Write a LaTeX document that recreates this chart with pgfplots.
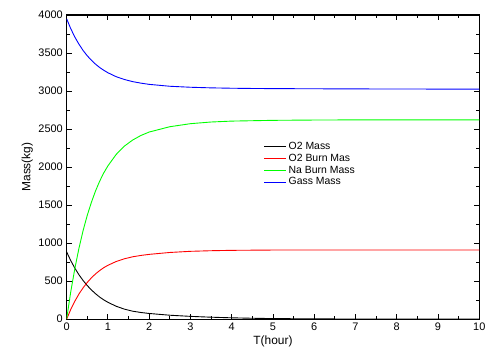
\documentclass[border=0pt]{standalone}
\usepackage{fontspec}
\setmainfont{Liberation Sans}
\usepackage{pgfplots}
\pgfplotsset{compat=1.18}
\begin{document}
\fontsize{11}{13}\selectfont
\begin{tikzpicture}[x=1pt,y=1pt]
\begin{axis}[
  scale only axis,
  width=415pt, height=306pt,
  xmin=0, xmax=10, ymin=0, ymax=4000,
  xtick={0,1,...,10}, ytick={0,500,...,4000},
  minor x tick num=1, minor y tick num=1,
  tick align=inside,
  major tick length=5pt, minor tick length=3pt,
  tick style={black, line width=0.8pt},
  axis line style={line width=1.2pt},
  every tick label/.append style={font=\fontsize{11}{13}\selectfont},
  /pgf/number format/assume math mode=true,
  scaled y ticks=false,
  yticklabel style={/pgf/number format/1000 sep={}},
  xlabel={T(hour)}, ylabel={Mass(kg)},
  label style={font=\fontsize{12}{14}\selectfont},
  xlabel style={yshift=2pt},
  ylabel style={yshift=-2pt},
  legend style={at={(0.47,0.596)}, anchor=north west, draw=none, fill=none,
    font=\fontsize{10.5}{12}\selectfont, row sep=-1pt},
  legend cell align=left,
  legend image post style={xscale=1.3},
  every axis plot/.append style={line width=0.9pt},
]
\addplot[black] coordinates {
(0,885)(0.1,770)(0.2,670)(0.3,583)(0.4,508)(0.5,442)(0.6,385)(0.7,335)(0.8,291)(0.9,254)(1.0,222)(1.2,170)(1.4,132)(1.6,105)(1.8,88)(2.0,75)(2.5,52)(3,37)(3.5,26)(4,18)(4.5,12)(5,8)(6,4)(7,2)(8,1)(9,0)(10,0)};
\addlegendentry{O2 Mass}
\addplot[red] coordinates {
(0,0)(0.1,128)(0.2,237)(0.3,332)(0.4,413)(0.5,483)(0.6,543)(0.7,595)(0.8,639)(0.9,677)(1.0,708)(1.2,758)(1.4,794)(1.6,820)(1.8,838)(2.0,852)(2.5,877)(3,892)(3.5,900)(4,905)(5,909)(6,910)(7,910)(8,910)(9,910)(10,910)};
\addlegendentry{O2 Burn Mas}
\addplot[green] coordinates {
(0,0)(0.1,359)(0.2,668)(0.3,935)(0.4,1166)(0.5,1365)(0.6,1535)(0.7,1685)(0.8,1813)(0.9,1923)(1.0,2015)(1.2,2165)(1.4,2275)(1.6,2355)(1.8,2415)(2.0,2460)(2.5,2530)(3,2570)(3.5,2592)(4,2604)(5,2614)(6,2618)(7,2620)(8,2620)(9,2620)(10,2620)};
\addlegendentry{Na Burn Mass}
\addplot[blue] coordinates {
(0,3950)(0.1,3819)(0.2,3708)(0.3,3614)(0.4,3532)(0.5,3463)(0.6,3404)(0.7,3353)(0.8,3309)(0.9,3272)(1.0,3240)(1.2,3188)(1.4,3151)(1.6,3123)(1.8,3103)(2.0,3087)(2.5,3062)(3,3049)(3.5,3041)(4,3036)(4.5,3033)(5,3031)(6,3029)(7,3027)(8,3026)(9,3025)(10,3025)};
\addlegendentry{Gass Mass}
\end{axis}
\path (current axis.south west) ++(-67pt,-42pt) rectangle ++(489pt,363pt);
\end{tikzpicture}
\end{document}
